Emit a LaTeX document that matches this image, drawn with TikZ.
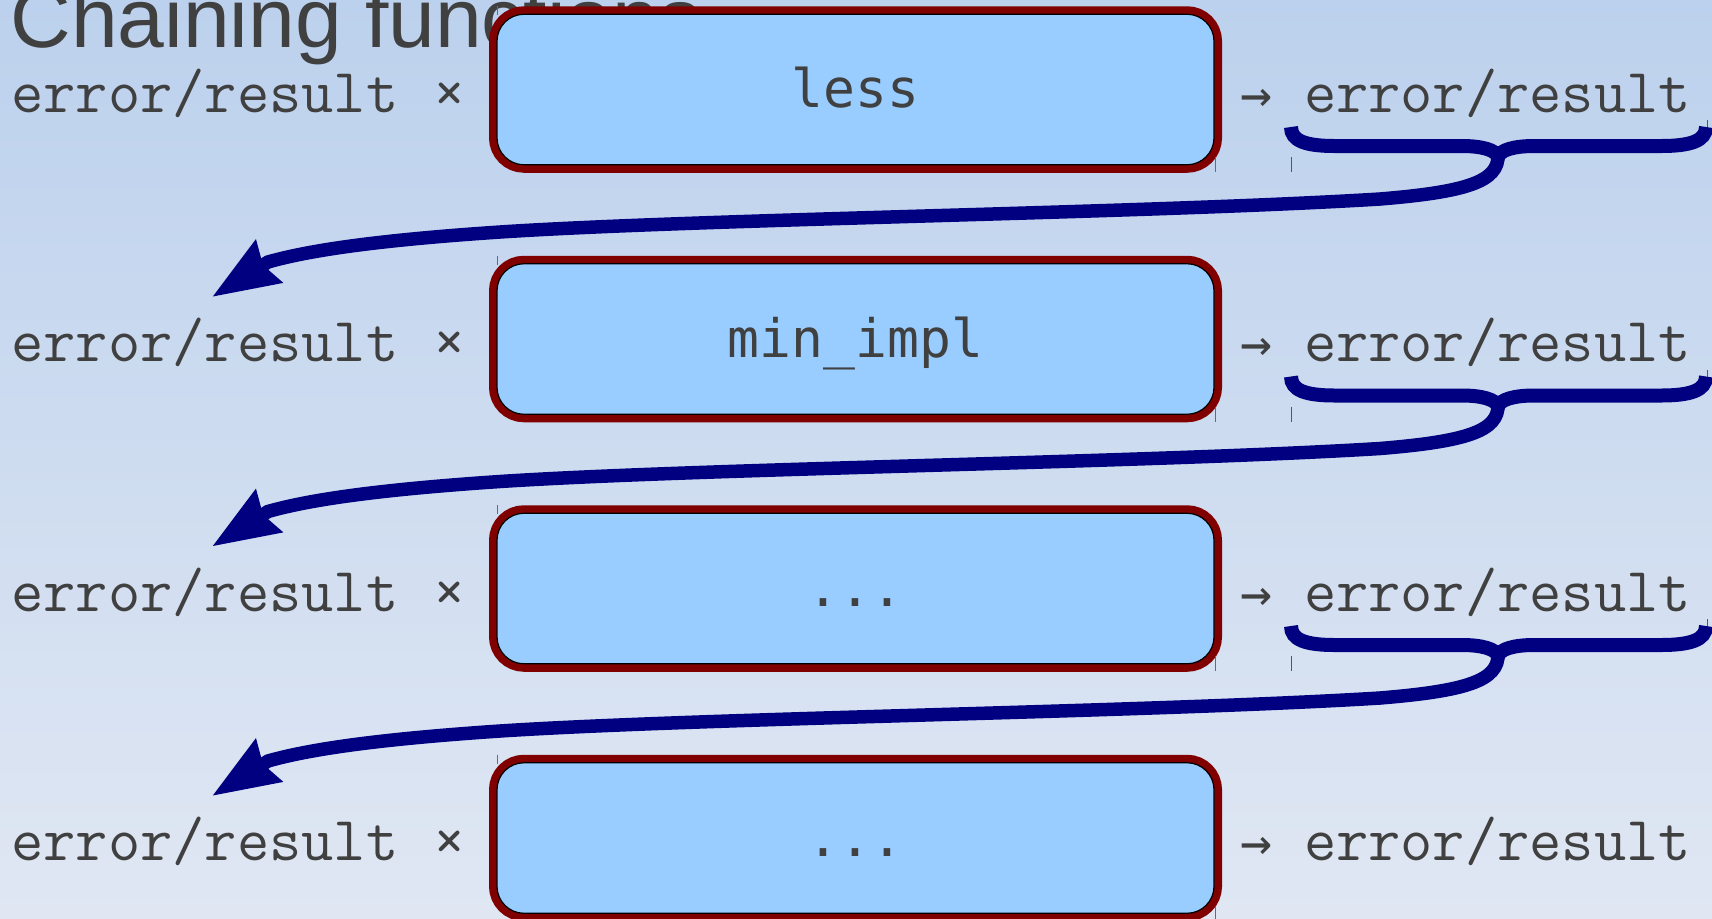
\documentclass[tikz,border=0pt]{standalone}
\usepackage{fontspec}
\usetikzlibrary{arrows.meta}
\newfontfamily\ttlfont{Liberation Sans}
\newfontfamily\iofont{Latin Modern Mono}
\newfontfamily\fnfont{DejaVu Sans Mono}
\definecolor{bgtop}{RGB}{188,209,237}
\definecolor{bgmid}{RGB}{216,226,241}
\definecolor{bgbot}{RGB}{224,231,243}
\definecolor{boxfill}{RGB}{153,204,255}
\definecolor{boxedge}{RGB}{128,0,0}
\definecolor{txt}{RGB}{64,64,64}
\definecolor{flow}{RGB}{0,0,128}
\definecolor{tickred}{RGB}{170,80,80}
\definecolor{tickblue}{RGB}{70,80,170}
\newcommand\inlabel{error/result\hspace{17.6pt}×}
\newcommand\outlabel{\makebox[31.8pt][l]{\fnfont\fontsize{26.5pt}{30pt}\selectfont →}error/result}
\begin{document}
\begin{tikzpicture}[x=0.5pt,y=-0.5pt,
  iotext/.style={anchor=base west, inner sep=0pt, text=txt, font=\iofont\fontsize{31.3pt}{35pt}\selectfont},
  fnbox/.style={draw=black, line width=0.6pt, fill=boxfill, rounded corners=13.5pt,
    minimum width=358.5pt, minimum height=75.25pt, inner sep=0pt, text=txt,
    font=\fnfont\fontsize{26.5pt}{30pt}\selectfont, text height=21.2pt, text depth=3.2pt,
    preaction={draw=boxedge, line width=8pt}},
  bracestroke/.style={draw=flow, line width=7pt, line cap=butt},
  flowarrow/.style={draw=flow, line width=6.75pt, line cap=butt,
    -{Stealth[length=33pt,width=24pt,inset=3pt]}},
  tickr/.style={draw=tickred, line width=0.5pt},
  tickb/.style={draw=tickblue, line width=0.5pt}
]
\begin{scope}[y=0.5pt]
\shade[top color=bgtop, middle color=bgmid, bottom color=bgbot] (0,0) rectangle (1712,-918);
\end{scope}
\useasboundingbox (0,0) rectangle (1712,918);

\node[anchor=base west, inner sep=0pt, text=txt, font=\ttlfont\fontsize{42pt}{48pt}\selectfont] (title) at (10,47) {Chaining functions};

% rows
\node[iotext] (in0) at (11,112) {\inlabel};
\node[iotext] (in1) at (11,361.5) {\inlabel};
\node[iotext] (in2) at (11,611) {\inlabel};
\node[iotext] (in3) at (11,860.5) {\inlabel};

\node[fnbox] (fn0) at (855.5,89.5) {less};
\node[fnbox] (fn1) at (855.5,339) {min\_impl};
\node[fnbox] (fn2) at (855.5,588.5) {...};
\node[fnbox] (fn3) at (855.5,838) {...};

\node[iotext] (out0) at (1240,112) {\outlabel};
\node[iotext] (out1) at (1240,361.5) {\outlabel};
\node[iotext] (out2) at (1240,611) {\outlabel};
\node[iotext] (out3) at (1240,860.5) {\outlabel};

% box corner ticks
\foreach \i in {0,1,2,3}{
  \begin{scope}[yshift={-124.75pt*\i}]
    \draw[tickr] (497,6) -- (497,15);
    \draw[tickr] (1215,157) -- (1215,172);
  \end{scope}
}

% braces and arrows
\foreach \i [evaluate=\i as \j using int(\i+1)] in {0,1,2}{
  \begin{scope}[yshift={-124.75pt*\i}]
    \draw[tickb] (1291,157) -- (1291,172);
    \draw[tickb] (1707,120) -- (1707,128);
    \draw[bracestroke] (1291,127) .. controls (1291,141) and (1306,146) .. (1335,146)
      -- (1462,146) .. controls (1482,146) and (1496,150) .. (1498,157);
    \draw[bracestroke] (1498,157) .. controls (1500,150) and (1514,146) .. (1534,146)
      -- (1661,146) .. controls (1690,146) and (1706,141) .. (1706,127);
    \coordinate (cusp\i) at (1498,155);
    \coordinate (tip\j) at (212,297);
    \draw[flowarrow] (cusp\i) .. controls (1499,182) and (1465,192) .. (1380,199)
      .. controls (1150,213) and (700,219) .. (500,232)
      .. controls (380,240) and (310,250) .. (268,262) -- (tip\j);
  \end{scope}
}
\end{tikzpicture}
\end{document}
